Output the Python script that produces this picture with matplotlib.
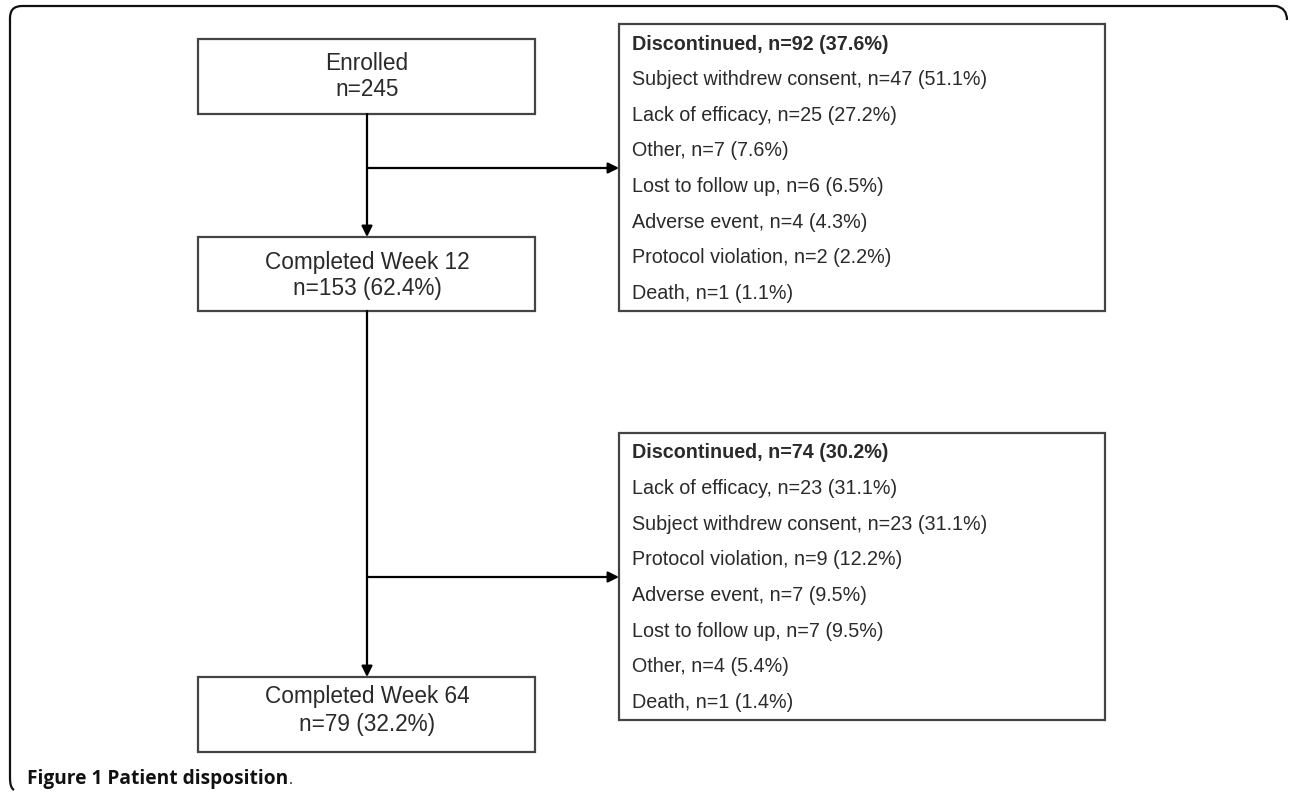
import matplotlib
matplotlib.use('Agg')
import matplotlib.pyplot as plt
from matplotlib.patches import Rectangle, FancyArrowPatch
from matplotlib.path import Path
from matplotlib.patches import PathPatch

# flow counts
enrolled_n = 245
week12_n, week12_pct = 153, 62.4
week64_n, week64_pct = 79, 32.2

disc1_n, disc1_pct = 92, 37.6
disc1_reasons = ['Subject withdrew consent', 'Lack of efficacy', 'Other',
                 'Lost to follow up', 'Adverse event', 'Protocol violation', 'Death']
disc1_counts = [47, 25, 7, 6, 4, 2, 1]
disc1_pcts = [51.1, 27.2, 7.6, 6.5, 4.3, 2.2, 1.1]

disc2_n, disc2_pct = 74, 30.2
disc2_reasons = ['Lack of efficacy', 'Subject withdrew consent', 'Protocol violation',
                 'Adverse event', 'Lost to follow up', 'Other', 'Death']
disc2_counts = [23, 23, 9, 7, 7, 4, 1]
disc2_pcts = [31.1, 31.1, 12.2, 9.5, 9.5, 5.4, 1.4]

plt.rcParams['font.family'] = ['Liberation Sans', 'DejaVu Sans']

fig = plt.figure(figsize=(12.9, 7.95), dpi=100)
ax = fig.add_axes([0, 0, 1, 1])
ax.set_xlim(0, 1290)
ax.set_ylim(795, 0)
ax.axis('off')

txt_col = '#2a2a2a'
box_col = '#444444'
big = 16.3
small = 14.2

# outer frame (top and left edges with rounded corners)
verts = [(1287, 20), (1287, 8), (1276, 6), (22, 6), (10, 6), (10, 18),
         (10, 778), (10, 788), (14, 790)]
codes = [Path.MOVETO, Path.CURVE3, Path.CURVE3, Path.LINETO, Path.CURVE3, Path.CURVE3,
         Path.LINETO, Path.CURVE3, Path.CURVE3]
ax.add_patch(PathPatch(Path(verts, codes), fill=False, lw=1.6, color='#111111'))


def box(x0, y0, x1, y1):
    ax.add_patch(Rectangle((x0, y0), x1 - x0, y1 - y0, fill=False, lw=1.6, ec=box_col))


# left column boxes
cx = 367
box(198, 39, 535, 114)
ax.text(cx, 63, 'Enrolled', ha='center', va='center', fontsize=big, color=txt_col)
ax.text(cx, 90, 'n=%d' % enrolled_n, ha='center', va='center', fontsize=big, color=txt_col)

box(198, 237, 535, 311)
ax.text(cx, 262, 'Completed Week 12', ha='center', va='center', fontsize=big, color=txt_col)
ax.text(cx, 288, 'n=%d (%.1f%%)' % (week12_n, week12_pct), ha='center', va='center',
        fontsize=big, color=txt_col)

box(198, 677, 535, 752)
ax.text(cx, 696, 'Completed Week 64', ha='center', va='center', fontsize=big, color=txt_col)
ax.text(cx, 724, 'n=%d (%.1f%%)' % (week64_n, week64_pct), ha='center', va='center',
        fontsize=big, color=txt_col)


def disc_box(top, bottom, n, pct, reasons, counts, pcts):
    box(619, top, 1105, bottom)
    y = top + 20
    ax.text(632, y, 'Discontinued, n=%d (%.1f%%)' % (n, pct), ha='left', va='center',
            fontsize=small, fontweight='bold', color=txt_col)
    for r, c, p in zip(reasons, counts, pcts):
        y += 35.6
        ax.text(632, y, '%s, n=%d (%.1f%%)' % (r, c, p), ha='left', va='center',
                fontsize=small, color=txt_col)


disc_box(24, 311, disc1_n, disc1_pct, disc1_reasons, disc1_counts, disc1_pcts)
disc_box(433, 720, disc2_n, disc2_pct, disc2_reasons, disc2_counts, disc2_pcts)


def arrow(p0, p1):
    ax.add_patch(FancyArrowPatch(p0, p1, arrowstyle='-|>', mutation_scale=16,
                                 lw=1.6, color='black', shrinkA=0, shrinkB=0))


# connectors
arrow((cx, 114), (cx, 237))
arrow((cx, 168), (619, 168))
arrow((cx, 311), (cx, 677))
arrow((cx, 577), (619, 577))

# caption
cap = ax.text(27, 784, 'Figure 1 Patient disposition', ha='left', va='baseline',
              fontsize=13.8, fontweight='bold', family=['Open Sans', 'DejaVu Sans'],
              color='#111111')
fig.canvas.draw()
bb = cap.get_window_extent()
x_end = ax.transData.inverted().transform((bb.x1, bb.y0))[0]
ax.text(x_end + 1, 784, '.', ha='left', va='baseline', fontsize=11,
        family=['Open Sans', 'DejaVu Sans'], color='#111111')

fig.savefig('out.png', dpi=100)
